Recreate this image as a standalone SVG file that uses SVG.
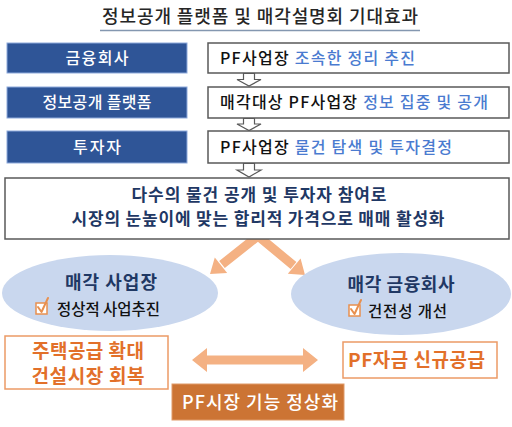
<svg xmlns="http://www.w3.org/2000/svg" width="512" height="427" viewBox="0 0 512 427">
<style>
text{font-family:"Noto Sans CJK KR","Noto Sans",sans-serif;}
.title{font-size:18px;fill:#262626;font-weight:500;}
.bluebox{fill:#2f5597;stroke:#8eaadb;stroke-width:1;}
.bluetxt{font-size:16px;fill:#ffffff;font-weight:500;}
.wbox{fill:#ffffff;stroke:#595959;stroke-width:1.5;}
.wtxt{font-size:16px;fill:#111111;font-weight:500;}
.hl{fill:#4a7bd0;}
.bigtxt{font-size:17px;fill:#1f3864;font-weight:700;}
.ell{fill:#c9d7ee;}
.etitle{font-size:18px;fill:#1f3864;font-weight:700;}
.esub{font-size:15.5px;fill:#111111;font-weight:500;}
.obox{fill:#ffffff;stroke:#ec9a66;stroke-width:1.5;}
.otxt{font-size:19px;fill:#e2702a;font-weight:700;}
.sarrow{fill:#ffffff;stroke:#595959;stroke-width:1.2;}
.oarrow{fill:#f4b183;}
.chk{fill:#ffffff;stroke:#e8904f;stroke-width:1.5;}
.chkm{fill:none;stroke:#e8904f;stroke-width:2;stroke-linecap:round;stroke-linejoin:round;}
</style>
<g id="title">
<text class="title" x="260" y="23" text-anchor="middle" textLength="316" lengthAdjust="spacing">정보공개 플랫폼 및 매각설명회 기대효과</text>
<line x1="100" y1="30.5" x2="420" y2="30.5" stroke="#8497b0" stroke-width="1.5"/>
</g>
<g id="connectors">
<path class="sarrow" d="M243.5 73.5 L254.5 73.5 L254.5 79.5 L261 79.5 L249 86 L237 79.5 L243.5 79.5 Z"/>
<path class="sarrow" d="M243.5 118.5 L254.5 118.5 L254.5 124 L261 124 L249 130.5 L237 124 L243.5 124 Z"/>
<path class="sarrow" d="M243.5 163.5 L254.5 163.5 L254.5 170 L261 170 L249 177 L237 170 L243.5 170 Z"/>
<path d="M222 264.5 L258 236 L293.5 265.5" fill="none" stroke="#f4b183" stroke-width="9" stroke-linejoin="miter"/>
<polygon class="oarrow" points="227.2,273.1 210,274 214.8,257.5"/>
<polygon class="oarrow" points="287.8,273.8 305,275 300.6,258.4"/>
<polygon class="oarrow" points="192,360 207,348 207,355.5 303,355.5 303,348 318,360 303,372 303,364.5 207,364.5 207,372"/>
</g>
<g id="n-finance">
<rect class="bluebox" x="7" y="43" width="180" height="30"/>
<text class="bluetxt" x="97" y="64" text-anchor="middle" textLength="63" lengthAdjust="spacing">금융회사</text>
</g>
<g id="n-platform">
<rect class="bluebox" x="7" y="87" width="180" height="31"/>
<text class="bluetxt" x="97" y="108" text-anchor="middle" textLength="109" lengthAdjust="spacing">정보공개 플랫폼</text>
</g>
<g id="n-investor">
<rect class="bluebox" x="7" y="131" width="180" height="32"/>
<text class="bluetxt" x="97" y="153" text-anchor="middle" textLength="48" lengthAdjust="spacing">투자자</text>
</g>
<g id="n-step1">
<rect class="wbox" x="208" y="43" width="301" height="30"/>
<text class="wtxt" x="220" y="64" textLength="195" lengthAdjust="spacing">PF사업장 <tspan class="hl">조속한 정리 추진</tspan></text>
</g>
<g id="n-step2">
<rect class="wbox" x="208" y="87" width="301" height="31"/>
<text class="wtxt" x="220" y="108" textLength="268" lengthAdjust="spacing">매각대상 PF사업장 <tspan class="hl">정보 집중 및 공개</tspan></text>
</g>
<g id="n-step3">
<rect class="wbox" x="208" y="131" width="301" height="32"/>
<text class="wtxt" x="220" y="153" textLength="232" lengthAdjust="spacing">PF사업장 <tspan class="hl">물건 탐색 및 투자결정</tspan></text>
</g>
<g id="n-result">
<rect class="wbox" x="5" y="178" width="504" height="61" stroke="#7f7f7f"/>
<text class="bigtxt" x="259" y="201" text-anchor="middle" textLength="255" lengthAdjust="spacing">다수의 물건 공개 및 투자자 참여로</text>
<text class="bigtxt" x="258" y="225" text-anchor="middle" textLength="373" lengthAdjust="spacing">시장의 눈높이에 맞는 합리적 가격으로 매매 활성화</text>
</g>
<g id="n-site">
<ellipse class="ell" cx="110" cy="293" rx="108" ry="38"/>
<text class="etitle" x="111" y="289" text-anchor="middle" textLength="92" lengthAdjust="spacing">매각 사업장</text>
<rect class="chk" x="36" y="303" width="11" height="11"/>
<path class="chkm" d="M38 307 L41.5 312 L48 298"/>
<text class="esub" x="57" y="315" textLength="103" lengthAdjust="spacing">정상적 사업추진</text>
</g>
<g id="n-bank">
<ellipse class="ell" cx="401" cy="294" rx="110" ry="41"/>
<text class="etitle" x="401" y="291" text-anchor="middle" textLength="107" lengthAdjust="spacing">매각 금융회사</text>
<rect class="chk" x="349" y="305" width="11" height="11"/>
<path class="chkm" d="M351 309 L354.5 314 L361 300"/>
<text class="esub" x="368" y="317" textLength="79" lengthAdjust="spacing">건전성 개선</text>
</g>
<g id="n-housing">
<rect class="obox" x="5" y="336" width="163" height="53"/>
<text class="otxt" x="88" y="358" text-anchor="middle" textLength="112" lengthAdjust="spacing">주택공급 확대</text>
<text class="otxt" x="88" y="383" text-anchor="middle" textLength="113" lengthAdjust="spacing">건설시장 회복</text>
</g>
<g id="n-fund">
<rect class="obox" x="343" y="342" width="154" height="36"/>
<text class="otxt" x="348" y="367" textLength="137" lengthAdjust="spacing">PF자금 신규공급</text>
</g>
<g id="n-normal">
<rect x="172" y="384" width="172" height="36" fill="#cc7434" stroke="#e09a68" stroke-width="1"/>
<text x="260" y="409" text-anchor="middle" font-size="18" fill="#ffffff" font-weight="500" textLength="156" lengthAdjust="spacing">PF시장 기능 정상화</text>
</g>
</svg>
